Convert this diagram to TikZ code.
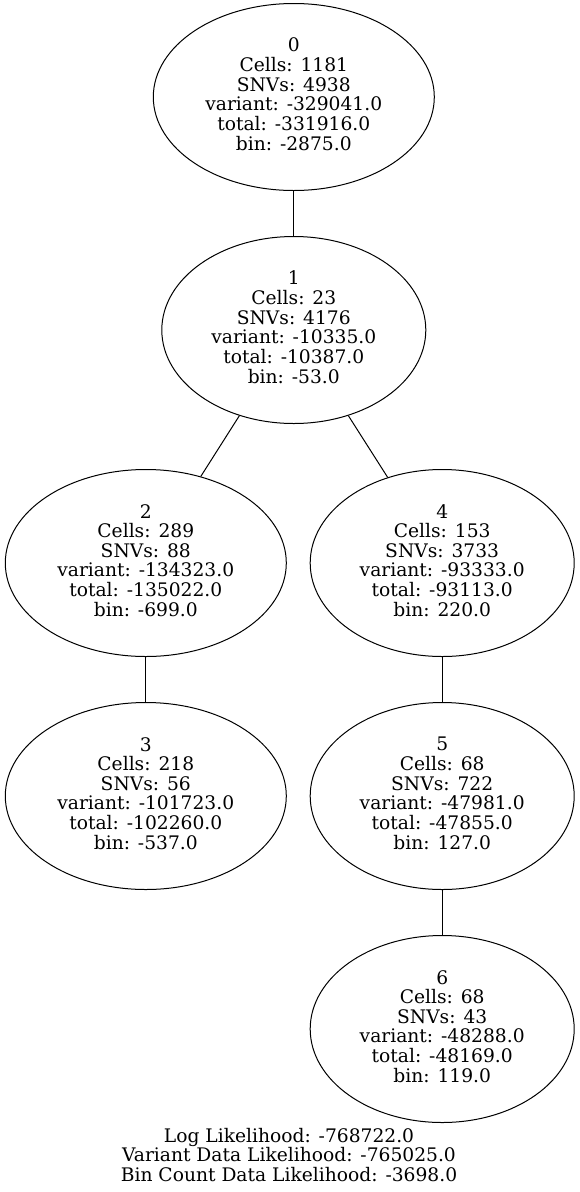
\documentclass[tikz,border=0pt]{standalone}
\usepackage{fontspec}
\setmainfont{DejaVu Serif}
\usetikzlibrary{shapes.geometric}
\newcommand{\lbl}[1]{{\setlength{\tabcolsep}{0pt}\begin{tabular}{c}#1\end{tabular}}}
\begin{document}
\begin{tikzpicture}[x=1pt,y=-1pt,
  every node/.style={font=\fontsize{18.67}{18.67}\selectfont},
  treenode/.style={ellipse, draw, line width=1pt, inner sep=0pt, minimum height=187pt},
  wide/.style={treenode, minimum width=281pt},
  narrow/.style={treenode, minimum width=264pt},
  edge/.style={line width=1pt}]
\useasboundingbox (0,0) rectangle (579,1192);
\node[wide]   (n0) at (293.8,97)   {\lbl{0\\Cells: 1181\\SNVs: 4938\\variant: -329041.0\\total: -331916.0\\bin: -2875.0}};
\node[narrow] (n1) at (293.8,330)  {\lbl{1\\Cells: 23\\SNVs: 4176\\variant: -10335.0\\total: -10387.0\\bin: -53.0}};
\node[wide]   (n2) at (145.8,563)  {\lbl{2\\Cells: 289\\SNVs: 88\\variant: -134323.0\\total: -135022.0\\bin: -699.0}};
\node[narrow] (n4) at (442.2,563)  {\lbl{4\\Cells: 153\\SNVs: 3733\\variant: -93333.0\\total: -93113.0\\bin: 220.0}};
\node[wide]   (n3) at (145.8,796)  {\lbl{3\\Cells: 218\\SNVs: 56\\variant: -101723.0\\total: -102260.0\\bin: -537.0}};
\node[narrow] (n5) at (442.2,796)  {\lbl{5\\Cells: 68\\SNVs: 722\\variant: -47981.0\\total: -47855.0\\bin: 127.0}};
\node[narrow] (n6) at (442.2,1029) {\lbl{6\\Cells: 68\\SNVs: 43\\variant: -48288.0\\total: -48169.0\\bin: 119.0}};
\draw[edge] (n0) -- (n1);
\draw[edge] (n1) -- (n2);
\draw[edge] (n1) -- (n4);
\draw[edge] (n2) -- (n3);
\draw[edge] (n4) -- (n5);
\draw[edge] (n5) -- (n6);
\node[inner sep=0pt] (caption) at (289,1157.5) {\lbl{Log Likelihood: -768722.0\\Variant Data Likelihood: -765025.0\\Bin Count Data Likelihood: -3698.0}};
\end{tikzpicture}
\end{document}
